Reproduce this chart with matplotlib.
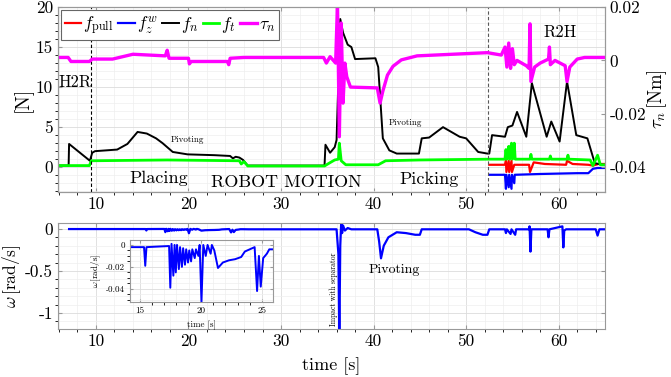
import matplotlib
matplotlib.use('Agg')
import matplotlib.pyplot as plt
from matplotlib.ticker import MultipleLocator

plt.rcParams['font.family'] = 'serif'
plt.rcParams['font.serif'] = ['cmr10']
plt.rcParams['mathtext.fontset'] = 'cm'
plt.rcParams['axes.unicode_minus'] = False
plt.rcParams['axes.formatter.use_mathtext'] = False

# --- forces [N] ---
t_fn = [5.9, 7.05, 7.1, 9.35, 9.6, 9.9, 12.3, 13.4, 14.5, 15.5, 16.5, 17.2, 18.3, 19.9,
        22.8, 24.5, 24.8, 25.1, 25.5, 25.9, 26.4, 34.7, 34.8, 35.3, 35.8, 36.0, 36.4,
        36.7, 37.2, 37.6, 38.0, 40.2, 40.5, 41.0, 41.7, 42.5, 44.9, 45.2, 46.0, 47.5,
        49.3, 50.0, 51.3, 52.3, 52.5, 52.8, 54.2, 54.5, 55.0, 55.5, 56.5, 57.1, 58.7,
        59.2, 60.1, 60.9, 61.9, 63.1, 63.9, 65.0]
f_n = [0.2, 0.2, 2.9, 0.8, 1.8, 2.0, 2.2, 2.9, 4.4, 4.2, 3.6, 3.0, 1.9, 1.6,
       1.5, 1.4, 1.1, 1.3, 1.2, 0.9, 0.2, 0.2, 2.8, 1.8, 2.5, 3.4, 18.5,
       16.8, 15.3, 15.0, 13.5, 13.6, 12.5, 3.6, 2.1, 1.7, 1.7, 3.6, 3.7, 5.0,
       3.8, 3.6, 1.9, 1.7, 1.7, 4.0, 3.8, 5.0, 5.2, 6.9, 3.8, 10.5, 3.8,
       5.7, 3.2, 10.7, 4.0, 3.6, 0.5, 0.25]

t_ft = [5.9, 9.3, 9.5, 17.7, 25.5, 25.7, 26.0, 26.4, 34.7, 35.2, 35.8, 36.2, 36.3, 36.5,
        37.0, 40.5, 41.3, 45.0, 52.5, 54.2, 54.3, 54.4, 54.6, 54.7, 54.9, 55.0, 55.2,
        55.3, 56.9, 57.0, 57.1, 59.0, 59.1, 59.2, 60.9, 61.0, 61.1, 63.4, 63.7, 64.2,
        64.5, 65.0]
f_t = [0.2, 0.2, 0.8, 0.9, 0.8, 0.4, 0.7, 0.15, 0.15, 0.5, 0.9, 1.0, 3.0, 0.8,
       0.3, 0.3, 0.8, 0.9, 1.0, 1.0, 2.2, 1.0, 2.6, 1.0, 3.0, 1.0, 3.0,
       1.0, 1.0, 1.6, 1.0, 1.0, 1.4, 1.0, 1.0, 1.5, 1.0, 0.9, 0.2, 1.5,
       0.3, 0.3]

t_pull = [52.5, 54.2, 54.3, 54.35, 54.6, 54.65, 54.9, 54.95, 55.2, 56.8, 56.9, 57.3,
          58.5, 60.8, 60.9, 61.5, 63.2, 63.7, 64.3, 65.0]
f_pull = [0.3, 0.3, 0.8, -0.6, 0.8, -0.6, 0.8, -0.6, 0.3, 0.3, -0.6, 0.6,
          0.4, 0.3, 0.8, 0.4, 0.3, 0.2, 0.4, 0.4]

t_fzw = [52.5, 54.2, 54.3, 54.35, 54.6, 54.65, 54.9, 54.95, 55.2, 55.25, 58.0, 62.0,
         63.2, 63.7, 64.2, 65.0]
f_zw = [-0.95, -0.95, -2.7, -0.95, -2.5, -0.95, -2.7, -0.95, -2.0, -0.95, -0.85, -0.75,
        -0.75, -0.2, -0.1, -0.1]

# --- torque [Nm] ---
t_tau = [5.9, 7.0, 7.3, 9.3, 9.6, 11.8, 14.0, 17.5, 17.7, 17.9, 20.0, 20.1, 20.3, 24.2,
         24.35, 24.5, 26.0, 34.6, 34.9, 35.3, 35.9, 36.1, 36.3, 36.5, 36.7, 36.9, 37.1,
         37.5, 40.4, 40.7, 41.0, 41.5, 42.1, 43.0, 44.7, 52.3, 53.8, 54.2, 54.4, 54.6,
         54.8, 55.0, 55.2, 55.5, 56.5, 56.8, 56.9, 57.0, 57.4, 58.0, 58.9, 59.0, 59.1,
         59.6, 60.7, 60.9, 61.2, 62.0, 62.8, 65.0]
tau_n = [0.0011, 0.0011, -0.0004, -0.0004, 0.0005, 0.0005, 0.0023, 0.0017, 0.0038, 0.0008,
         0.0008, -0.0013, -0.0004, -0.0004, -0.0016, 0.0008, 0.0011, 0.0011, -0.001, 0.0014,
         -0.001, 0.0215, -0.0286, 0.014, -0.016, -0.001, -0.0061, -0.010, -0.0103, -0.016,
         -0.0115, -0.0055, -0.0022, 0.0002, 0.0017, 0.0029, 0.002, 0.005, -0.0025, 0.0065,
         -0.003, 0.0044, -0.0016, 0.0, -0.002, -0.003, 0.0137, -0.0079, -0.0025, -0.001,
         0.0005, 0.005, -0.0016, 0.0, -0.002, -0.0079, -0.0025, 0.0005, 0.0011, 0.0011]

# --- angular velocity [rad/s] ---
t_w_zoom = [14.2, 15.35, 15.45, 15.55, 17.4, 17.5, 17.6, 17.75, 17.85, 17.95, 18.05, 18.2,
            18.3, 18.45, 18.55, 18.7, 18.8, 18.95, 19.05, 19.2, 19.3, 19.5, 19.6, 19.8,
            19.9, 20.05, 20.2, 20.4, 20.55, 20.8, 20.9, 21.1, 21.4, 21.8, 22.3, 22.8,
            23.3, 23.6, 24.0, 24.4, 24.6, 24.75, 24.9, 25.1, 25.4, 25.6, 25.9]
w_zoom = [-0.002, -0.002, -0.019, -0.002, -0.001, -0.039, 0.001, -0.028, 0.0, -0.025, 0.0,
          -0.022, -0.002, -0.02, -0.003, -0.018, -0.004, -0.016, -0.005, -0.015, -0.004,
          -0.012, -0.004, -0.01, 0.0, -0.052, 0.0, -0.01, 0.0, -0.008, 0.0, -0.005, -0.021,
          -0.016, -0.014, -0.013, -0.011, -0.006, -0.004, -0.002, -0.042, -0.01, -0.038,
          -0.012, -0.008, -0.004, -0.004]

t_w_before = [7.1, 14.0]
w_before = [-0.002, -0.002]
t_w_after = [26.5, 36.0, 36.2, 36.3, 36.4, 36.5, 36.6, 36.7, 36.9, 37.2, 37.6, 40.4, 40.6,
             40.8, 41.1, 41.6, 42.5, 43.5, 44.5, 45.0, 45.2, 50.3, 51.0, 51.8, 52.3, 52.5,
             54.2, 54.3, 54.4, 54.8, 54.9, 55.3, 55.4, 56.8, 56.85, 56.95, 57.05, 58.8,
             58.9, 59.0, 60.4, 60.5, 60.6, 60.8, 64.0, 64.2, 64.4, 65.0]
w_after = [-0.005, -0.005, -0.3, -1.3, -0.2, 0.07, -0.05, 0.04, -0.02, 0.01, -0.005,
           -0.005, -0.15, -0.35, -0.2, -0.1, -0.04, -0.05, -0.07, -0.07, -0.005, -0.005,
           -0.04, -0.07, -0.07, -0.005, -0.005, -0.05, -0.005, -0.06, -0.005, -0.07,
           -0.005, -0.005, 0.03, -0.27, -0.005, -0.005, -0.1, -0.005, 0.03, -0.22, -0.02,
           -0.005, -0.005, -0.08, -0.005, -0.005]

t_omega = t_w_before + t_w_zoom + t_w_after
omega = w_before + w_zoom + w_after

red = '#ff0000'
blue = '#0000ff'
green = '#00ff00'
magenta = '#ff00ff'
frame = '0.6'


def style(ax, fs):
    ax.tick_params(direction='in', length=3, labelsize=fs, color=frame, top=True, right=True)
    for s in ax.spines.values():
        s.set_color(frame)
        s.set_linewidth(0.8)
    ax.grid(True, which='major', color='#dcdcdc', lw=0.6)
    ax.grid(True, which='minor', color='#eeeeee', lw=0.5)
    ax.set_axisbelow(True)


fig = plt.figure(figsize=(6.71, 3.77), dpi=100)

# top panel
ax1 = fig.add_axes([0.0864, 0.4907, 0.8152, 0.4907])
ax1.plot(t_pull, f_pull, color=red, lw=1.6, label=r'$f_{\rm pull}$')
ax1.plot(t_fzw, f_zw, color=blue, lw=1.6, label=r'$f_z^w$')
ax1.plot(t_fn, f_n, color='k', lw=1.4, label=r'$f_n$')
ax1.plot(t_ft, f_t, color=green, lw=2.0, label=r'$f_t$')
ax1.axvline(9.5, color='k', ls=(0, (3, 2)), lw=0.8)
ax1.axvline(52.4, color='0.35', ls=(0, (3, 2)), lw=0.8)
ax1.set_xlim(5.9, 65)
ax1.set_ylim(-3.1, 20)
ax1.set_xticks([10, 20, 30, 40, 50, 60])
ax1.set_yticks([0, 5, 10, 15, 20])
ax1.xaxis.set_minor_locator(MultipleLocator(2))
ax1.yaxis.set_minor_locator(MultipleLocator(1))
style(ax1, 12.5)
ax1.tick_params(right=False, which='both')
ax1.set_ylabel('[N]', fontsize=14)
ax1.yaxis.set_label_coords(-0.047, 0.5)

ax1.text(7.8, 10.6, 'H2R', fontsize=12, ha='center', va='center')
ax1.text(60.1, 16.8, 'R2H', fontsize=12, ha='center', va='center')
ax1.text(16.8, -1.4, 'Placing', fontsize=13, ha='center', va='center')
ax1.text(30.6, -1.9, 'ROBOT MOTION', fontsize=13, ha='center', va='center')
ax1.text(46.0, -1.5, 'Picking', fontsize=13, ha='center', va='center')
ax1.text(19.9, 3.4, 'Pivoting', fontsize=6.5, ha='center', va='center')
ax1.text(43.4, 5.6, 'Pivoting', fontsize=6.5, ha='center', va='center')

ax2 = ax1.twinx()
ax2.plot(t_tau, tau_n, color=magenta, lw=2.4, label=r'$\tau_n$')
ax2.set_ylim(-0.0493, 0.02)
ax2.set_yticks([-0.04, -0.02, 0, 0.02])
ax2.set_yticklabels(['-0.04', '-0.02', '0', '0.02'])
ax2.tick_params(direction='in', length=3, labelsize=12.5, color=frame)
for s in ax2.spines.values():
    s.set_color(frame)
    s.set_linewidth(0.8)
ax2.set_ylabel(r'$\tau_n\,$[Nm]', fontsize=13.5)
ax2.yaxis.set_label_coords(1.074, 0.5)

h1, l1 = ax1.get_legend_handles_labels()
h2, l2 = ax2.get_legend_handles_labels()
leg = ax2.legend(h1 + h2, l1 + l2, loc='upper left', ncol=5, fontsize=12.5,
                 handlelength=0.95, handletextpad=0.12, columnspacing=0.25,
                 borderpad=0.2, borderaxespad=0.2, fancybox=False, framealpha=1)
leg.get_frame().set_edgecolor('0.4')
leg.get_frame().set_linewidth(0.8)

# bottom panel
ax3 = fig.add_axes([0.0864, 0.1273, 0.8152, 0.2812])
ax3.plot(t_omega, omega, color=blue, lw=1.6)
ax3.set_xlim(5.9, 65)
ax3.set_ylim(-1.19, 0.07)
ax3.set_xticks([10, 20, 30, 40, 50, 60])
ax3.set_yticks([-1, -0.5, 0])
ax3.set_yticklabels(['-1', '-0.5', '0'])
ax3.xaxis.set_minor_locator(MultipleLocator(2))
ax3.yaxis.set_minor_locator(MultipleLocator(0.1))
style(ax3, 12.5)
ax3.set_xlabel('time [s]', fontsize=13)
ax3.xaxis.set_label_coords(0.5, -0.265)
ax3.set_ylabel(r'$\omega\,$[rad/s]', fontsize=12.5)
ax3.yaxis.set_label_coords(-0.064, 0.5)
ax3.text(42.2, -0.49, 'Pivoting', fontsize=10, ha='center', va='center')
ax3.text(35.7, -0.72, 'Impact with separator', fontsize=5.5, rotation=90,
         ha='center', va='center')

# inset
axin = fig.add_axes([0.1937, 0.1989, 0.2131, 0.1645])
axin.plot(t_w_zoom, w_zoom, color=blue, lw=1.4)
axin.set_xlim(14.2, 25.9)
axin.set_ylim(-0.052, 0.0045)
axin.set_xticks([15, 20, 25])
axin.set_yticks([-0.04, -0.02, 0])
axin.set_yticklabels(['-0.04', '-0.02', '0'])
axin.xaxis.set_minor_locator(MultipleLocator(1))
axin.yaxis.set_minor_locator(MultipleLocator(0.005))
style(axin, 6.5)
axin.tick_params(length=2)
axin.set_xlabel('time [s]', fontsize=6.5)
axin.xaxis.set_label_coords(0.5, -0.3)
axin.set_ylabel(r'$\omega\,$[rad/s]', fontsize=6.5)
axin.yaxis.set_label_coords(-0.19, 0.5)

fig.savefig('out.png', dpi=100)
